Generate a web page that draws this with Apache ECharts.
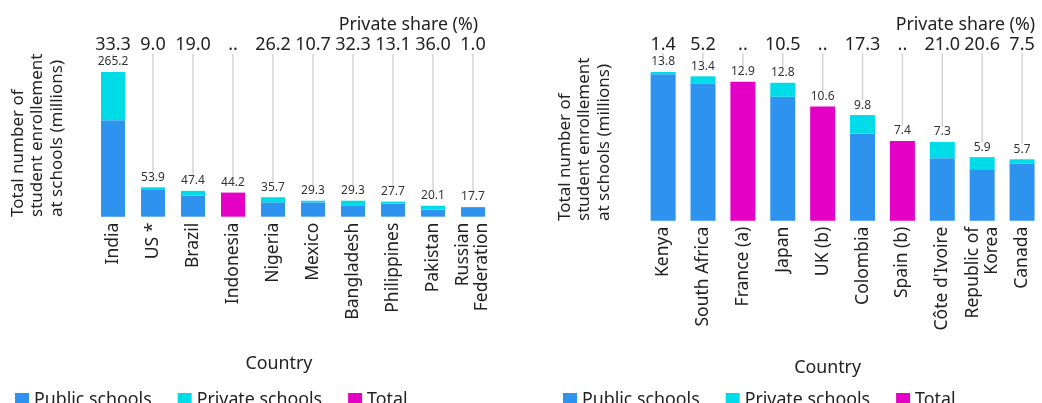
<!DOCTYPE html>
<html><head><meta charset="utf-8">
<script src="https://cdn.jsdelivr.net/npm/echarts@6/dist/echarts.min.js"></script>
<style>html,body{margin:0;padding:0;background:#fff}#c{width:1042px;height:403px}</style>
</head><body><div id="c"></div>
<script>
// ---- Left chart data ----
const leftCountries = ['India', 'US *', 'Brazil', 'Indonesia', 'Nigeria', 'Mexico', 'Bangladesh', 'Philippines', 'Pakistan', 'Russian\nFederation'];
const leftPublic  = [176.9, 49.0, 38.4, null, 26.3, 26.2, 19.8, 24.1, 12.9, 17.5];
const leftPrivate = [88.3, 4.9, 9.0, null, 9.4, 3.1, 9.5, 3.6, 7.2, 0.2];
const leftTotalOnly = [null, null, null, 44.2, null, null, null, null, null, null];
const leftTotals = [265.2, 53.9, 47.4, 44.2, 35.7, 29.3, 29.3, 27.7, 20.1, 17.7];
const leftShare = ['33.3', '9.0', '19.0', '..', '26.2', '10.7', '32.3', '13.1', '36.0', '1.0'];

// ---- Right chart data ----
const rightCountries = ['Kenya', 'South Africa', 'France (a)', 'Japan', 'UK (b)', 'Colombia', 'Spain (b)', 'Côte d\'Ivoire', 'Republic of\nKorea', 'Canada'];
const rightPublic  = [13.6, 12.7, null, 11.5, null, 8.1, null, 5.8, 4.7, 5.3];
const rightPrivate = [0.2, 0.7, null, 1.3, null, 1.7, null, 1.5, 1.2, 0.4];
const rightTotalOnly = [null, null, 12.9, null, 10.6, null, 7.4, null, null, null];
const rightTotals = [13.8, 13.4, 12.9, 12.8, 10.6, 9.8, 7.4, 7.3, 5.9, 5.7];
const rightShare = ['1.4', '5.2', '..', '10.5', '..', '17.3', '..', '21.0', '20.6', '7.5'];

const FONT = 'Noto Sans';
const C_PUB = '#2e93ee', C_PRIV = '#00dbe8', C_TOT = '#e500c6';

const chart = echarts.init(document.getElementById('c'));

function lineRender(params, api) {
  const p = api.coord([api.value(0), api.value(1)]);
  const top = params.coordSys.y - 1;
  return {
    type: 'line', silent: true,
    shape: { x1: p[0], y1: top, x2: p[0], y2: p[1] - 15 },
    style: { stroke: '#d4d4d4', lineWidth: 1.5 }
  };
}

function barSeries(xi, yi, pub, priv, tot, totals, bw) {
  const lbl = { show: true, position: 'top', distance: 4, fontFamily: FONT, fontSize: 12, color: '#333' };
  return [
    { name: 'Public schools', type: 'bar', stack: 's' + xi, xAxisIndex: xi, yAxisIndex: yi, barWidth: bw,
      data: pub, itemStyle: { color: C_PUB } },
    { name: 'Private schools', type: 'bar', stack: 's' + xi, xAxisIndex: xi, yAxisIndex: yi, barWidth: bw,
      data: priv, itemStyle: { color: C_PRIV },
      label: Object.assign({}, lbl, { formatter: p => totals[p.dataIndex].toFixed(1) }) },
    { name: 'Total', type: 'bar', stack: 's' + xi, xAxisIndex: xi, yAxisIndex: yi, barWidth: bw,
      data: tot, itemStyle: { color: C_TOT },
      label: Object.assign({}, lbl, { formatter: p => p.value.toFixed(1) }) },
    { type: 'custom', xAxisIndex: xi, yAxisIndex: yi, clip: false, silent: true, z: 1,
      renderItem: lineRender, data: totals.map((v, i) => [i, v]) }
  ];
}

function bottomAxis(grid, cats, pad) {
  return {
    type: 'category', gridIndex: grid, data: cats, position: 'bottom',
    axisLine: { show: false }, axisTick: { show: false },
    axisLabel: { rotate: 90, margin: 6, fontFamily: FONT, fontSize: 17.5, color: '#222', interval: 0, lineHeight: 19 },
    name: 'Country', nameLocation: 'middle', nameGap: 138,
    nameTextStyle: { fontFamily: FONT, fontSize: 17.8, color: '#222', padding: pad }
  };
}
function topAxis(grid, shares, margin) {
  return {
    type: 'category', gridIndex: grid, data: shares, position: 'top',
    axisLine: { show: false }, axisTick: { show: false },
    axisLabel: { margin: margin, fontFamily: FONT, fontSize: 18, color: '#222', interval: 0 }
  };
}
function yAxis(grid, max) {
  return { type: 'value', gridIndex: grid, min: 0, max: max,
    axisLine: { show: false }, axisTick: { show: false }, axisLabel: { show: false }, splitLine: { show: false } };
}

const legendBase = {
  icon: 'rect', itemWidth: 14, itemHeight: 14, itemGap: 26, top: 386,
  textStyle: { fontFamily: FONT, fontSize: 17.8, color: '#222' },
  data: ['Public schools', 'Private schools', 'Total']
};

chart.setOption({
  animation: false,
  textStyle: { fontFamily: FONT },
  title: [
    { text: 'Private share (%)', right: 559, top: 11, textStyle: { fontFamily: FONT, fontSize: 17.8, fontWeight: 'normal', color: '#222' } },
    { text: 'Private share (%)', right: 2, top: 11, textStyle: { fontFamily: FONT, fontSize: 17.8, fontWeight: 'normal', color: '#222' } }
  ],
  legend: [
    Object.assign({}, legendBase, { left: 10 }),
    Object.assign({}, legendBase, { left: 558 })
  ],
  grid: [
    { left: 93, width: 400, top: 55, bottom: 186.3 },
    { left: 643.2, width: 405.6, top: 54, bottom: 182.3 }
  ],
  xAxis: [
    bottomAxis(0, leftCountries, [0, 28, 0, 0]),
    topAxis(0, leftShare, 1),
    bottomAxis(1, rightCountries, [0, 30, 0, 0]),
    topAxis(1, rightShare, 0)
  ],
  yAxis: [yAxis(0, 296.4), yAxis(1, 15.47)],
  graphic: [
    { type: 'text', x: 8, y: 217, rotation: Math.PI / 2, silent: true,
      style: { text: 'Total number of\nstudent enrollement\nat schools (millions)', align: 'left', verticalAlign: 'top',
        font: '17px "Noto Sans"', lineHeight: 19.5, fill: '#222' } },
    { type: 'text', x: 555, y: 221, rotation: Math.PI / 2, silent: true,
      style: { text: 'Total number of\nstudent enrollement\nat schools (millions)', align: 'left', verticalAlign: 'top',
        font: '17px "Noto Sans"', lineHeight: 19.5, fill: '#222' } }
  ],
  series: [
    ...barSeries(0, 0, leftPublic, leftPrivate, leftTotalOnly, leftTotals, 24),
    ...barSeries(2, 1, rightPublic, rightPrivate, rightTotalOnly, rightTotals, 25)
  ]
});
</script>
</body></html>
